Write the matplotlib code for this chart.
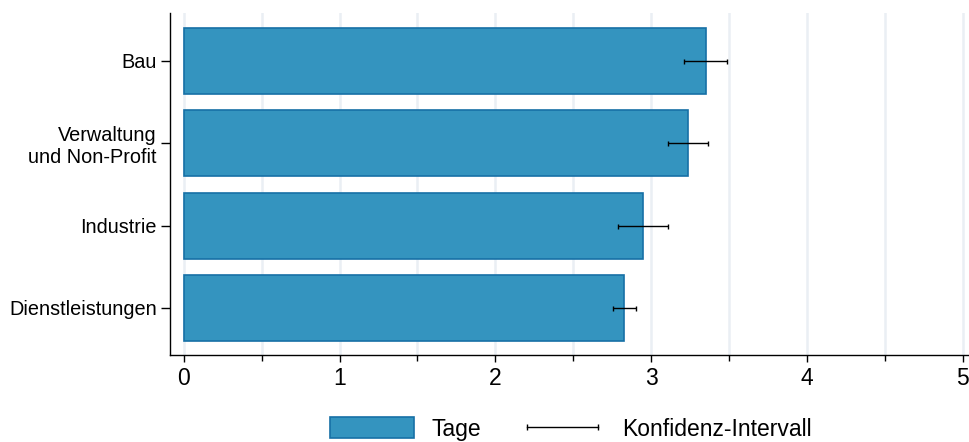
import matplotlib.pyplot as plt
import numpy as np
from matplotlib.ticker import MultipleLocator
from matplotlib.lines import Line2D
from matplotlib.patches import Patch

plt.rcParams['font.family'] = ['Liberation Sans', 'DejaVu Sans']

# Durchschnittliche Tage je Branche mit Konfidenzintervall
branchen = ['Dienstleistungen', 'Industrie', 'Verwaltung\nund Non-Profit', 'Bau']
tage = [2.825, 2.945, 3.235, 3.35]
ki_unten = [2.755, 2.79, 3.11, 3.214]
ki_oben = [2.902, 3.107, 3.365, 3.49]

tage = np.array(tage)
fehler = np.array([tage - np.array(ki_unten), np.array(ki_oben) - tage])
y = np.arange(len(branchen))

balken_farbe = '#3494bf'
rand_farbe = '#1670a6'

fig = plt.figure(figsize=(9.69, 4.42), dpi=100)
ax = fig.add_axes([170 / 969, 1 - 355 / 442, 799 / 969, 342 / 442])

ax.barh(y, tage, height=0.8, color=balken_farbe, edgecolor=rand_farbe,
        linewidth=1.2, zorder=2)
ax.errorbar(tage, y, xerr=fehler, fmt='none', ecolor='black',
            elinewidth=1.0, capsize=1.8, capthick=1.0, zorder=3)

ax.set_xlim(-0.088, 5.04)
ax.set_ylim(-0.571, 3.583)
ax.set_yticks(y)
ax.set_yticklabels(branchen, fontsize=14.3, ha='right')
ax.xaxis.set_major_locator(MultipleLocator(1))
ax.xaxis.set_minor_locator(MultipleLocator(0.5))
ax.tick_params(axis='x', which='major', labelsize=16.5, length=5, width=1)
ax.tick_params(axis='x', which='minor', length=4, width=1)
ax.tick_params(axis='y', length=6.5, width=1, pad=3)

ax.grid(True, axis='x', which='both', color='#eaeff4', linewidth=1.8, zorder=0)
ax.set_axisbelow(True)
for s in ['top', 'right']:
    ax.spines[s].set_visible(False)
for s in ['left', 'bottom']:
    ax.spines[s].set_linewidth(1.0)

# Legende: Balken und Intervall-Linie mit Endstrichen
handles = [
    Patch(facecolor=balken_farbe, edgecolor=rand_farbe, linewidth=1.2),
    Line2D([], [], color='black', linewidth=1.0, marker='|',
           markersize=4, markeredgewidth=1.0),
]
fig.legend(handles, ['Tage', 'Konfidenz-Intervall'], loc='center',
           bbox_to_anchor=(0.589, 1 - 429 / 442), ncol=2, numpoints=2,
           frameon=False, fontsize=16.5, handlelength=3.7, handleheight=1.0,
           handletextpad=0.75, columnspacing=1.7)

fig.savefig('out.png', dpi=100)
